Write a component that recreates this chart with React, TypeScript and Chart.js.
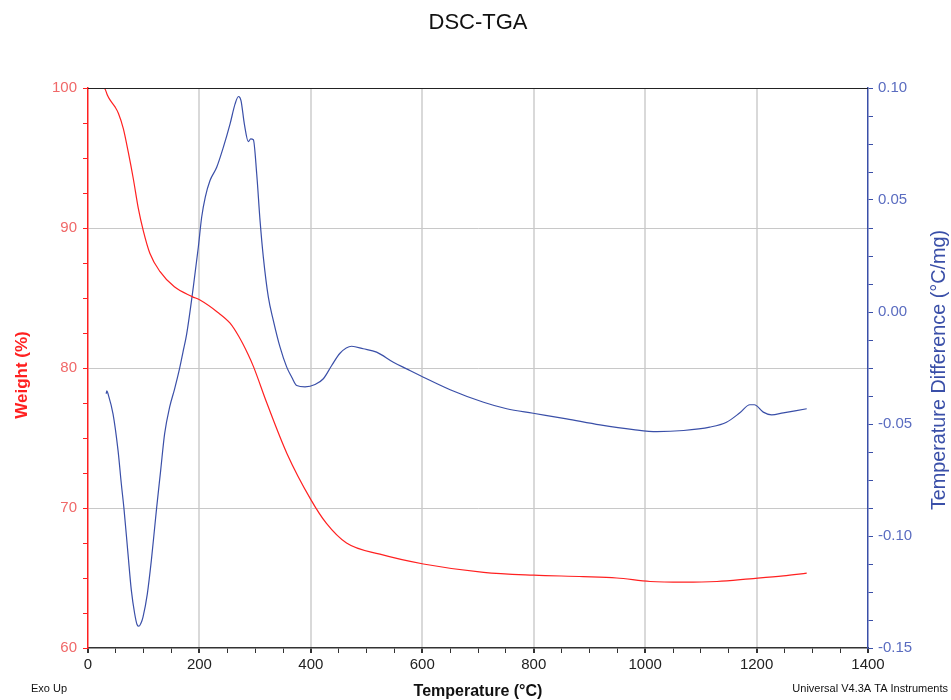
import { useEffect, useRef } from 'react';
import { Chart, registerables } from 'chart.js';

Chart.register(...registerables);

const FONT = '"Liberation Sans", Arial, Helvetica, sans-serif';

// TGA (weight %) vs temperature
const tgaTemp = [29, 31, 34.7, 39.5, 48.5, 54.5, 63.4, 72.4, 81.4, 90.3, 99.3, 111, 129, 155, 187, 201, 232, 255, 270, 287, 297, 321, 357, 400, 428, 464, 524, 602, 710, 800, 889, 949, 1009, 1069, 1129, 1188, 1248, 1290];
const tgaWeight = [100, 99.9, 99.5, 99.15, 98.65, 98.2, 97.1, 95.4, 93.5, 91.4, 89.8, 88.2, 86.9, 85.8, 85.1, 84.85, 84.0, 83.2, 82.3, 81.0, 80.1, 77.5, 73.9, 70.6, 68.9, 67.5, 66.7, 66.0, 65.4, 65.2, 65.1, 65.0, 64.75, 64.7, 64.75, 64.94, 65.15, 65.35];

// DSC (temperature difference °C/mg) vs temperature
const dscTemp = [32.5, 33.9, 35.9, 44.9, 53.9, 59.8, 64.6, 71.8, 77.8, 83.8, 88, 91.5, 95, 98.7, 106.5, 113.7, 119.7, 123, 130.4, 137.5, 146.5, 155.5, 164.5, 170.4, 177, 189, 198, 204, 210.5, 219, 231, 243, 255, 264, 270, 274.6, 280.6, 287.8, 292, 296.8, 302.8, 308.8, 314.7, 323.7, 332.7, 344.7, 356.7, 365.7, 374.6, 389.5, 407.5, 422.4, 437.4, 452.3, 473.2, 494, 518, 548, 572, 602, 650, 710, 751.5, 799, 859, 919, 979, 1021, 1069, 1116, 1146, 1170, 1188, 1196, 1212, 1227, 1248, 1290];
const dscDiff = [-0.0365, -0.0352, -0.0365, -0.0455, -0.0618, -0.0767, -0.0879, -0.108, -0.1243, -0.1347, -0.1395, -0.1403, -0.139, -0.1362, -0.1258, -0.1109, -0.0961, -0.0879, -0.0708, -0.0544, -0.0425, -0.0343, -0.0251, -0.018, -0.01, 0.0111, 0.0289, 0.0423, 0.0513, 0.0587, 0.0646, 0.0736, 0.084, 0.0929, 0.0962, 0.0944, 0.084, 0.0761, 0.0773, 0.0769, 0.0617, 0.0408, 0.0245, 0.0066, -0.0038, -0.0157, -0.0246, -0.0291, -0.0328, -0.0334, -0.0324, -0.0298, -0.0239, -0.0184, -0.0153, -0.0164, -0.0179, -0.0224, -0.0254, -0.0291, -0.0347, -0.0403, -0.0432, -0.0452, -0.0477, -0.0504, -0.0525, -0.0534, -0.0529, -0.0514, -0.0492, -0.045, -0.0414, -0.0414, -0.0447, -0.0459, -0.045, -0.0432];

// Axis ranges and labels
const xRange = [0, 1400];
const weightRange = [60, 100];
const diffRange = [-0.15, 0.1];
const titleText = 'DSC-TGA';
const xTitle = 'Temperature (°C)';
const leftTitle = 'Weight (%)';
const rightTitle = 'Temperature Difference (°C/mg)';
const footLeft = 'Exo Up';
const footRight = 'Universal V4.3A TA Instruments';

const RED = '#ff2020';
const BLUE = '#3a4fa8';

const isMult = (v: number, m: number) => Math.abs(v / m - Math.round(v / m)) < 1e-6;

const decor = {
  id: 'decor',
  afterDraw(chart: any) {
    const { ctx, chartArea } = chart;
    ctx.save();
    // top frame line
    ctx.strokeStyle = '#222';
    ctx.lineWidth = 1;
    ctx.beginPath();
    ctx.moveTo(chartArea.left, chartArea.top + 0.5);
    ctx.lineTo(chartArea.right, chartArea.top + 0.5);
    ctx.stroke();

    // title
    ctx.fillStyle = '#111';
    ctx.font = `22px ${FONT}`;
    ctx.textAlign = 'center';
    ctx.textBaseline = 'alphabetic';
    ctx.fillText(titleText, 478, 29);

    // x title
    ctx.font = `bold 16px ${FONT}`;
    ctx.fillText(xTitle, 478, 696);

    // footers
    ctx.font = `11px ${FONT}`;
    ctx.textAlign = 'left';
    ctx.fillText(footLeft, 31, 692);
    ctx.textAlign = 'right';
    ctx.fillText(footRight, 948, 692);

    // left title
    ctx.save();
    ctx.translate(22, 375);
    ctx.rotate(-Math.PI / 2);
    ctx.textAlign = 'center';
    ctx.textBaseline = 'middle';
    ctx.fillStyle = RED;
    ctx.font = `bold 17px ${FONT}`;
    ctx.fillText(leftTitle, 0, 0);
    ctx.restore();

    // right title
    ctx.save();
    ctx.translate(940, 370);
    ctx.rotate(-Math.PI / 2);
    ctx.textAlign = 'center';
    ctx.textBaseline = 'middle';
    ctx.fillStyle = BLUE;
    ctx.font = `19.8px ${FONT}`;
    ctx.fillText(rightTitle, 0, 0);
    ctx.restore();

    ctx.restore();
  },
};

export default function App() {
  const ref = useRef<HTMLCanvasElement>(null);
  useEffect(() => {
    const tgaData = tgaTemp.map((t, i) => ({ x: t, y: tgaWeight[i] }));
    const dscData = dscTemp.map((t, i) => ({ x: t, y: dscDiff[i] }));
    const chart = new Chart(ref.current as HTMLCanvasElement, {
      type: 'scatter',
      data: {
        datasets: [
          {
            label: 'Weight',
            data: tgaData,
            yAxisID: 'y',
            showLine: true,
            borderColor: RED,
            borderWidth: 1.2,
            pointRadius: 0,
            cubicInterpolationMode: 'monotone',
          },
          {
            label: 'Temperature Difference',
            data: dscData,
            yAxisID: 'y1',
            showLine: true,
            borderColor: BLUE,
            borderWidth: 1.2,
            pointRadius: 0,
            cubicInterpolationMode: 'monotone',
          },
        ],
      },
      options: {
        responsive: false,
        animation: false,
        events: [],
        layout: { padding: { top: 88, left: 0, right: 0, bottom: 0 } },
        plugins: { legend: { display: false }, tooltip: { enabled: false }, title: { display: false } },
        scales: {
          x: {
            type: 'linear',
            position: 'bottom',
            min: xRange[0],
            max: xRange[1],
            afterFit: (s: any) => { s.height = 52; },
            ticks: {
              stepSize: 50,
              autoSkip: false,
              maxRotation: 0,
              padding: 3,
              color: '#222',
              font: { family: FONT, size: 15 },
              callback: (v: any) => (isMult(Number(v), 200) ? String(v) : ''),
            },
            grid: {
              color: (c: any) => {
                const v = c.tick ? c.tick.value : 0;
                return isMult(v, 200) && v > 0 && v < 1400 ? '#d9d9d9' : 'rgba(0,0,0,0)';
              },
              lineWidth: (c: any) => (c.tick && isMult(c.tick.value, 200) ? 2 : 1),
              tickColor: '#333',
              tickLength: 5,
              drawTicks: true,
            },
            border: { color: '#333', width: 1.5 },
          },
          y: {
            type: 'linear',
            position: 'left',
            min: weightRange[0],
            max: weightRange[1],
            afterFit: (s: any) => { s.width = 88; },
            ticks: {
              stepSize: 2.5,
              autoSkip: false,
              padding: 6,
              color: '#f06868',
              font: { family: FONT, size: 15 },
              callback: (v: any) => (isMult(Number(v), 10) ? String(v) : ''),
            },
            grid: {
              color: (c: any) => {
                const v = c.tick ? c.tick.value : 0;
                return isMult(v, 10) && v > 60 && v < 100 ? '#c8c8c8' : 'rgba(0,0,0,0)';
              },
              lineWidth: 1,
              tickColor: '#ff2020',
              tickLength: 5,
            },
            border: { color: '#ff2020', width: 1.5 },
          },
          y1: {
            type: 'linear',
            position: 'right',
            min: diffRange[0],
            max: diffRange[1],
            afterFit: (s: any) => { s.width = 83; },
            ticks: {
              stepSize: 0.0125,
              autoSkip: false,
              padding: 5,
              color: '#5a6cc0',
              font: { family: FONT, size: 15 },
              callback: (v: any) => {
                const n = Number(v);
                if (!isMult(n, 0.05)) return '';
                if (Math.abs(n) < 1e-9) return '0.00';
                return n.toFixed(2);
              },
            },
            grid: {
              drawOnChartArea: false,
              color: BLUE,
              tickColor: BLUE,
              tickLength: 5,
            },
            border: { color: BLUE, width: 1.5 },
          },
        },
      },
      plugins: [decor],
    } as any);
    return () => chart.destroy();
  }, []);
  return (
    <div style={{ position: 'absolute', left: 0, top: 0, width: 951, height: 700, background: '#fff' }}>
      <canvas ref={ref} width={951} height={700} style={{ display: 'block' }} />
    </div>
  );
}
